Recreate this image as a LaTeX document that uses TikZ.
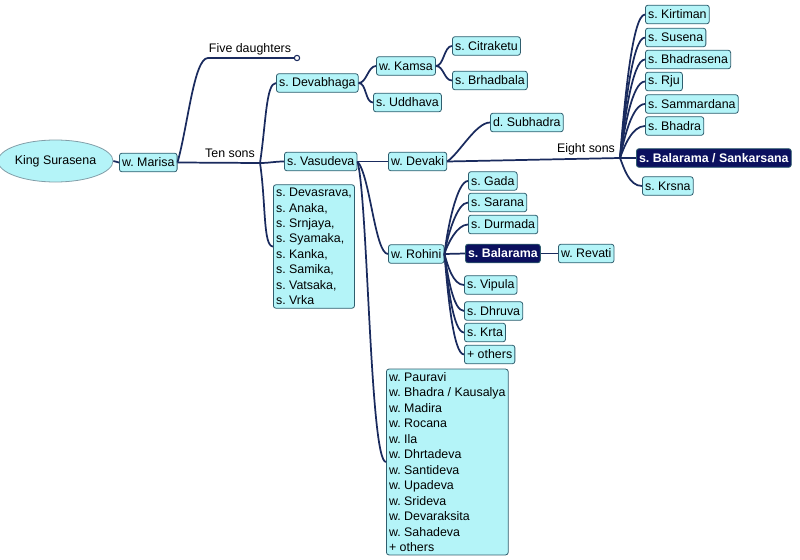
\documentclass[tikz,border=0pt]{standalone}
\usepackage{fontspec}
\setmainfont{Liberation Sans}
\usetikzlibrary{shapes.geometric}
\definecolor{boxfill}{HTML}{B4F4F8}
\definecolor{boxline}{HTML}{2F5E6E}
\definecolor{connc}{HTML}{1A2B5E}
\definecolor{darkfill}{HTML}{0B105E}
\frenchspacing
\begin{document}
\begin{tikzpicture}[x=0.75pt,y=-0.75pt,
  every node/.style={font=\fontsize{9.3}{11.6}\selectfont},
  box/.style={draw=boxline, fill=boxfill, rounded corners=2pt, line width=0.6pt,
    inner xsep=2pt, inner ysep=2pt, minimum height=14pt, anchor=west},
  dark/.style={box, fill=darkfill, text=white, font=\fontsize{9.3}{11}\selectfont\bfseries},
  listbox/.style={box, align=left, inner ysep=2.5pt},
  link/.style={draw=connc, line width=1.3pt},
  lbl/.style={inner sep=0pt, text=black}
]
\useasboundingbox (0,0) rectangle (800,560);

% nodes
\node[ellipse, draw=boxline!60, fill=boxfill, line width=0.6pt, minimum width=72pt, minimum height=31.5pt, inner sep=0pt] (king) at (55.5,161) {King Surasena};
\node[box] (marisa) at (119,162.5) {w. Marisa};
\node[box] (devabhaga) at (276,83) {s. Devabhaga};
\node[box] (vasudeva) at (284,161.5) {s. Vasudeva};
\node[listbox] (tens) at (273,246.5) {s. Devasrava,\\s. Anaka,\\s. Srnjaya,\\s. Syamaka,\\s. Kanka,\\s. Samika,\\s. Vatsaka,\\s. Vrka};
\node[box] (kamsa) at (376,66) {w. Kamsa};
\node[box] (uddhava) at (373,102.5) {s. Uddhava};
\node[box] (citraketu) at (452,46) {s. Citraketu};
\node[box] (brhadbala) at (452,80.5) {s. Brhadbala};
\node[box] (devaki) at (388,161.5) {w. Devaki};
\node[box] (subhadra) at (490,122.5) {d. Subhadra};
\node[box] (kirtiman) at (645,14.5) {s. Kirtiman};
\node[box] (susena) at (645,37.5) {s. Susena};
\node[box] (bhadrasena) at (645,59.5) {s. Bhadrasena};
\node[box] (rju) at (645,81.5) {s. Rju};
\node[box] (sammardana) at (645,104) {s. Sammardana};
\node[box] (bhadra) at (645,126) {s. Bhadra};
\node[dark] (balsank) at (636,158) {s. Balarama / Sankarsana};
\node[box] (krsna) at (642,186) {s. Krsna};
\node[box] (rohini) at (388,254) {w. Rohini};
\node[box] (gada) at (468,181) {s. Gada};
\node[box] (sarana) at (468,202.5) {s. Sarana};
\node[box] (durmada) at (468,224.5) {s. Durmada};
\node[dark] (balarama) at (465,253.5) {s. Balarama};
\node[box] (revati) at (558,253.5) {w. Revati};
\node[box] (vipula) at (464,285) {s. Vipula};
\node[box] (dhruva) at (464,311) {s. Dhruva};
\node[box] (krta) at (464,332.5) {s. Krta};
\node[box] (rothers) at (464,354.5) {+ others};
\node[listbox] (wives) at (386,462) {w. Pauravi\\w. Bhadra / Kausalya\\w. Madira\\w. Rocana\\w. Ila\\w. Dhrtadeva\\w. Santideva\\w. Upadeva\\w. Srideva\\w. Devaraksita\\w. Sahadeva\\+ others};

\coordinate (fd) at (208,58);
\coordinate (j1) at (260,163);
\coordinate (j2) at (620,158);
\node[circle, draw=connc, fill=white, line width=0.8pt, minimum size=4pt, inner sep=0pt] (fdend) at (297,58) {};

% labels
\node[lbl] (lfive) at (250,49) {Five daughters};
\node[lbl] (lten) at (230,153) {Ten sons};
\node[lbl] (leight) at (586,149) {Eight sons};

% connectors
\draw[link] (king.east) -- (marisa.west);
\draw[link] (marisa.east) .. controls (188,125) and (194,58) .. (fd) -- (fdend.west);
\draw[link] (marisa.east) -- (j1);
\draw[link] (j1) .. controls +(6,-40) and +(-10,0) .. (devabhaga.west);
\draw[link] (j1) .. controls +(10,0) and +(-10,0) .. (vasudeva.west);
\draw[link] (j1) .. controls +(6,40) and +(-10,0) .. (tens.west);
\draw[link] (devabhaga.east) .. controls +(8,0) and +(-8,0) .. (kamsa.west);
\draw[link] (devabhaga.east) .. controls +(8,0) and +(-8,0) .. (uddhava.west);
\draw[link] (kamsa.east) .. controls +(8,0) and +(-8,0) .. (citraketu.west);
\draw[link] (kamsa.east) .. controls +(8,0) and +(-8,0) .. (brhadbala.west);
\draw[link] (vasudeva.east) -- (devaki.west);
\draw[link] (vasudeva.east) .. controls (370,175) and (375,254) .. (rohini.west);
\draw[link] (vasudeva.east) .. controls (368,200) and (370,462) .. (wives.west);
\draw[link] (devaki.east) .. controls +(12,-8) and +(-14,0) .. (subhadra.west);
\draw[link] (devaki.east) -- (j2);
\draw[link] (j2) .. controls +(4,-50) and +(-13,0) .. (kirtiman.west);
\draw[link] (j2) .. controls +(4,-42) and +(-13,0) .. (susena.west);
\draw[link] (j2) .. controls +(4,-34) and +(-13,0) .. (bhadrasena.west);
\draw[link] (j2) .. controls +(4,-27) and +(-13,0) .. (rju.west);
\draw[link] (j2) .. controls +(4,-19) and +(-13,0) .. (sammardana.west);
\draw[link] (j2) .. controls +(4,-11) and +(-13,0) .. (bhadra.west);
\draw[link] (j2) -- (balsank.west);
\draw[link] (j2) .. controls +(4,10) and +(-13,0) .. (krsna.west);
\draw[link] (rohini.east) .. controls +(3,-26) and +(-11,0) .. (gada.west);
\draw[link] (rohini.east) .. controls +(3,-18) and +(-11,0) .. (sarana.west);
\draw[link] (rohini.east) .. controls +(3,-10) and +(-11,0) .. (durmada.west);
\draw[link] (rohini.east) -- (balarama.west);
\draw[link] (rohini.east) .. controls +(3,11) and +(-11,0) .. (vipula.west);
\draw[link] (rohini.east) .. controls +(3,20) and +(-11,0) .. (dhruva.west);
\draw[link] (rohini.east) .. controls +(3,27) and +(-11,0) .. (krta.west);
\draw[link] (rohini.east) .. controls +(3,35) and +(-11,0) .. (rothers.west);
\draw[link] (balarama.east) -- (revati.west);
\end{tikzpicture}
\end{document}
